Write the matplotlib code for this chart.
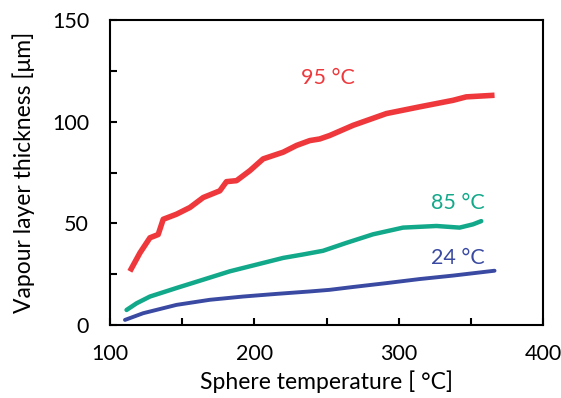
import matplotlib
matplotlib.use("Agg")
import matplotlib.pyplot as plt
from matplotlib.ticker import MultipleLocator

plt.rcParams['font.family'] = ['Lato', 'DejaVu Sans']

# 95 degC water
t95 = [113.8, 120.8, 127.7, 133.4, 136.9, 146.1, 155.4, 164.6, 176.1, 180.7, 187.7,
       196.9, 206.1, 220.0, 229.2, 238.4, 245.3, 252.2, 268.4, 291.5, 314.5, 337.6,
       346.8, 366.4]
d95 = [26.4, 35.5, 42.9, 44.5, 52.0, 54.5, 57.8, 62.7, 66.0, 70.5, 71.0,
       75.9, 81.7, 85.0, 88.3, 90.7, 91.5, 93.2, 98.2, 104.0, 107.3, 110.5,
       112.2, 113.0]

# 85 degC water
t85 = [111.5, 118.5, 127.7, 146.1, 164.6, 183.0, 201.5, 220.0, 233.8, 247.6,
       263.8, 282.2, 303.0, 326.1, 342.2, 351.4, 357.2]
d85 = [7.4, 10.7, 14.0, 18.2, 22.3, 26.4, 29.7, 33.0, 34.7, 36.5,
       40.4, 44.6, 47.9, 48.7, 47.9, 49.5, 51.1]

# 24 degC water
t24 = [110.4, 123.0, 146.1, 169.2, 192.2, 215.3, 238.4, 252.2, 268.4, 291.5,
       314.5, 337.6, 366.4]
d24 = [2.5, 5.8, 9.9, 12.4, 14.0, 15.3, 16.5, 17.3, 18.7, 20.6,
       22.6, 24.3, 26.7]

red = '#EE383C'
green = '#12A88A'
blue = '#3A4AA2'

fig = plt.figure(figsize=(5.61, 3.98), dpi=100)
ax = fig.add_axes([0.196, 0.1834, 0.772, 0.7663])

ax.plot(t95, d95, color=red, lw=4.0, solid_capstyle='butt', solid_joinstyle='round')
ax.plot(t85, d85, color=green, lw=3.2, solid_capstyle='round')
ax.plot(t24, d24, color=blue, lw=2.8, solid_capstyle='round')

ax.text(251, 121.5, '95 °C', color=red, fontsize=15.5, ha='center', va='center')
ax.text(341, 60, '85 °C', color=green, fontsize=15.5, ha='center', va='center')
ax.text(341, 33.2, '24 °C', color=blue, fontsize=15.5, ha='center', va='center')

ax.set_xlim(100, 400)
ax.set_ylim(0, 150)
ax.xaxis.set_major_locator(MultipleLocator(100))
ax.xaxis.set_minor_locator(MultipleLocator(50))
ax.yaxis.set_major_locator(MultipleLocator(50))
ax.yaxis.set_minor_locator(MultipleLocator(25))

for s in ax.spines.values():
    s.set_linewidth(1.5)
ax.tick_params(which='both', direction='in', width=1.5, labelsize=15.5, colors='black')
ax.tick_params(which='major', length=5)
ax.tick_params(which='minor', length=5)
ax.tick_params(axis='x', pad=14)
ax.tick_params(axis='y', pad=15)

ax.set_xlabel('Sphere temperature [ °C]', fontsize=16.5, labelpad=4)
ax.set_ylabel('Vapour layer thickness [μm]', fontsize=16.5, labelpad=12)

fig.savefig('out.png', dpi=100)
